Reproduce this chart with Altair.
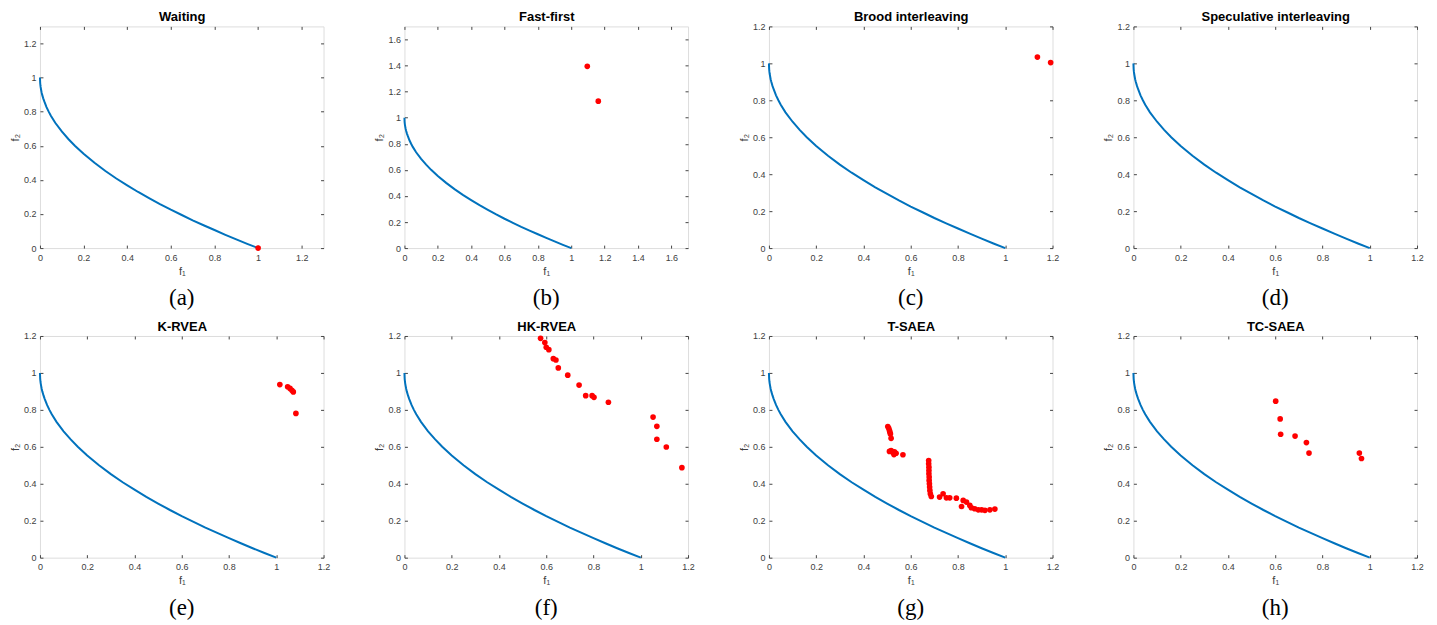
import altair as alt
import pandas as pd

# ---------------- data ----------------
TITLES = ["Waiting", "Fast-first", "Brood interleaving", "Speculative interleaving",
          "K-RVEA", "HK-RVEA", "T-SAEA", "TC-SAEA"]
CAPTIONS = ["(a)", "(b)", "(c)", "(d)", "(e)", "(f)", "(g)", "(h)"]
AXIS_MAX = [1.3, 1.7, 1.2, 1.2, 1.2, 1.2, 1.2, 1.2]
TICKS_12 = [0, 0.2, 0.4, 0.6, 0.8, 1, 1.2]
TICKS_16 = [0, 0.2, 0.4, 0.6, 0.8, 1, 1.2, 1.4, 1.6]

# true Pareto front
PF_F1 = [0, 0.001, 0.002, 0.003, 0.005, 0.0075, 0.01, 0.015, 0.02, 0.03, 0.04, 0.05, 0.07,
         0.1, 0.13, 0.16, 0.2, 0.25, 0.3, 0.35, 0.4, 0.45, 0.5, 0.55, 0.6, 0.65, 0.7, 0.75,
         0.8, 0.85, 0.9, 0.95, 1.0]
PF_F2 = [1.0, 0.968, 0.955, 0.945, 0.93, 0.913, 0.90, 0.878, 0.86, 0.827, 0.80, 0.776, 0.735,
         0.684, 0.64, 0.60, 0.553, 0.50, 0.452, 0.408, 0.368, 0.329, 0.293, 0.258, 0.225,
         0.194, 0.163, 0.134, 0.106, 0.078, 0.051, 0.025, 0.0]

WAITING_F1 = [1.0]
WAITING_F2 = [0.0]

FAST_F1 = [1.096, 1.162]
FAST_F2 = [1.394, 1.127]

BROOD_F1 = [1.136, 1.192]
BROOD_F2 = [1.034, 1.004]

SPEC_F1 = []
SPEC_F2 = []

KRVEA_F1 = [1.015, 1.048, 1.058, 1.066, 1.072, 1.083]
KRVEA_F2 = [0.937, 0.925, 0.916, 0.906, 0.897, 0.781]

HKRVEA_F1 = [0.576, 0.594, 0.600, 0.611, 0.630, 0.641, 0.651, 0.691, 0.739, 0.767,
             0.794, 0.802, 0.863, 1.052, 1.068, 1.068, 1.108, 1.174]
HKRVEA_F2 = [1.187, 1.164, 1.139, 1.126, 1.077, 1.070, 1.027, 0.988, 0.934, 0.877,
             0.877, 0.868, 0.841, 0.761, 0.711, 0.641, 0.599, 0.487]

TSAEA_F1 = [0.503, 0.507, 0.510, 0.512, 0.514, 0.517,
            0.510, 0.517, 0.524, 0.531, 0.538, 0.529, 0.567,
            0.676, 0.676, 0.677, 0.677, 0.677, 0.678, 0.678, 0.679, 0.680, 0.681, 0.683, 0.687,
            0.722, 0.737, 0.751, 0.765, 0.793,
            0.815, 0.822, 0.836, 0.850, 0.857, 0.871, 0.886, 0.900, 0.914, 0.935, 0.956]
TSAEA_F2 = [0.710, 0.700, 0.688, 0.679, 0.670, 0.646,
            0.575, 0.580, 0.571, 0.573, 0.565, 0.558, 0.557,
            0.526, 0.508, 0.490, 0.472, 0.454, 0.436, 0.418, 0.400, 0.382, 0.364, 0.346, 0.331,
            0.328, 0.346, 0.324, 0.324, 0.322,
            0.277, 0.310, 0.301, 0.283, 0.270, 0.265, 0.259, 0.259, 0.256, 0.259, 0.263]

TCSAEA_F1 = [0.602, 0.621, 0.623, 0.684, 0.732, 0.743, 0.956, 0.965]
TCSAEA_F2 = [0.847, 0.751, 0.668, 0.658, 0.623, 0.566, 0.566, 0.537]

POINTS = [(WAITING_F1, WAITING_F2), (FAST_F1, FAST_F2), (BROOD_F1, BROOD_F2),
          (SPEC_F1, SPEC_F2), (KRVEA_F1, KRVEA_F2), (HKRVEA_F1, HKRVEA_F2),
          (TSAEA_F1, TSAEA_F2), (TCSAEA_F1, TCSAEA_F2)]

# ---------------- style ----------------
SANS = "Liberation Sans"
SERIF = "Liberation Serif"
AX_COLOR = "#444444"
TXT_COLOR = "#404040"
BLUE = "#0072BD"
RED = "#FF0000"

W, H = 284, 222

front_df = pd.DataFrame({"f1": PF_F1, "f2": PF_F2})


def common_axis(ticks):
    return dict(values=ticks, format="~g", tickSize=3, offset=-3, domain=False, grid=False,
                tickColor=AX_COLOR, tickWidth=1, labelFont=SANS, labelFontSize=9,
                labelColor=TXT_COLOR, labelFlush=False, labelOverlap=False, labelBound=False)


def panel(i):
    xmax = AXIS_MAX[i]
    ticks = TICKS_16 if xmax > 1.5 else TICKS_12
    scale = alt.Scale(domain=[0, xmax], nice=False, zero=False)
    ax = common_axis(ticks)
    f1, f2 = POINTS[i]
    pts_df = pd.DataFrame({"f1": pd.Series(f1, dtype=float), "f2": pd.Series(f2, dtype=float)})

    line = alt.Chart(front_df).mark_line(color=BLUE, strokeWidth=2).encode(
        x=alt.X("f1:Q", scale=scale,
                axis=alt.Axis(orient="bottom", title="f₁", labelPadding=5,
                              titleFont=SANS, titleFontSize=11, titleFontWeight="normal",
                              titleColor=TXT_COLOR, titlePadding=3, **ax)),
        y=alt.Y("f2:Q", scale=scale,
                axis=alt.Axis(orient="left", title="f₂", labelPadding=4,
                              titleFont=SANS, titleFontSize=11, titleFontWeight="normal",
                              titleColor=TXT_COLOR, titlePadding=3, **ax)),
        order=alt.Order("f1:Q"),
    )
    pts = alt.Chart(pts_df).mark_circle(color=RED, size=32, opacity=1).encode(
        x=alt.X("f1:Q", scale=scale,
                axis=alt.Axis(orient="top", labels=False, title=TITLES[i],
                              titleFont=SANS, titleFontSize=13, titleFontWeight="bold",
                              titleColor="#000000", titlePadding=2, **ax)),
        y=alt.Y("f2:Q", scale=scale,
                axis=alt.Axis(orient="right", labels=False, title=None, **ax)),
    )
    return alt.layer(line, pts).properties(
        width=W, height=H,
        title=alt.TitleParams(CAPTIONS[i], orient="bottom", frame="group", anchor="middle",
                              font=SERIF, fontSize=23, fontWeight="normal", color="#000000",
                              offset=11),
    )


chart = alt.concat(*[panel(i) for i in range(8)], columns=4,
                   spacing={"row": 88, "column": 81}, bounds="flush").properties(
    padding={"left": 0, "top": 2, "right": 5, "bottom": 0},
).configure_view(stroke=AX_COLOR, strokeWidth=1).configure(background="white")

chart.save("out.html", embed_options={"renderer": "svg", "actions": False})
